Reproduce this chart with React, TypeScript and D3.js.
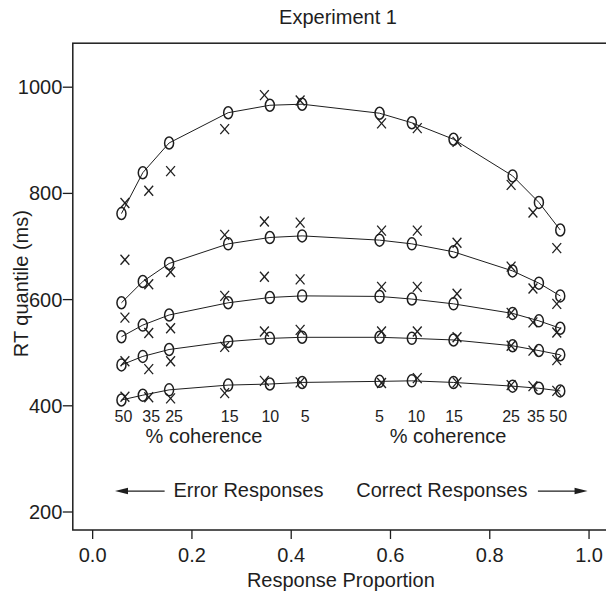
import React from "react";
import * as d3 from "d3";

// Proportions (x) of predicted (O) and observed (X) points, ordered left to right
const predProp = [0.058, 0.101, 0.154, 0.273, 0.357, 0.422, 0.578, 0.643, 0.727, 0.846, 0.899, 0.942];
const obsProp = [0.065, 0.113, 0.157, 0.266, 0.346, 0.418, 0.582, 0.654, 0.734, 0.843, 0.887, 0.935];

// RT quantiles (ms): predicted (O, connected by lines)
const pred90 = [762, 839, 895, 952, 966, 968, 951, 933, 902, 833, 783, 731];
const pred70 = [594, 634, 668, 705, 717, 720, 712, 705, 690, 654, 631, 607];
const pred50 = [530, 552, 571, 594, 604, 607, 606, 601, 592, 574, 560, 546];
const pred30 = [477, 493, 506, 521, 527, 529, 529, 527, 524, 513, 504, 496];
const pred10 = [411, 420, 430, 439, 441, 444, 446, 447, 444, 437, 433, 428];

// RT quantiles (ms): observed (X)
const obs90 = [782, 805, 842, 921, 985, 975, 932, 923, 897, 816, 764, 697];
const obs70 = [675, 629, 652, 722, 747, 745, 730, 730, 707, 662, 621, 592];
const obs50 = [566, 537, 546, 607, 643, 638, 624, 624, 611, 575, 557, 538];
const obs30 = [484, 469, 484, 511, 540, 543, 540, 540, 529, 513, 504, 486];
const obs10 = [417, 416, 414, 424, 447, 444, 443, 452, 444, 439, 437, 428];

// Coherence labels
const cohLabels = ["50", "35", "25", "15", "10", "5", "5", "10", "15", "25", "35", "50"];
const cohLabelProp = [0.062, 0.118, 0.164, 0.276, 0.358, 0.428, 0.578, 0.652, 0.728, 0.843, 0.893, 0.938];

const xTicks = [0, 0.2, 0.4, 0.6, 0.8, 1.0];
const yTicks = [200, 400, 600, 800, 1000];

const predSeries = [pred90, pred70, pred50, pred30, pred10];
const obsSeries = [obs90, obs70, obs50, obs30, obs10];

const W = 606;
const H = 594;
const FONT = "'Liberation Sans', Arial, Helvetica, sans-serif";
const INK = "#1e1e1e";

export default function App() {
  const x = d3.scaleLinear().domain([-0.04, 1.04]).range([72.8, 608.9]);
  const y = d3.scaleLinear().domain([200, 1000]).range([512, 87.2]);
  const plotTop = 43.2;
  const plotBottom = 530;
  const plotLeft = x(-0.04);
  const plotRight = x(1.04);

  const line = d3
    .line<[number, number]>()
    .x((d) => x(d[0]))
    .y((d) => y(d[1]));

  const arrowY = y(239.5);
  const textBase = arrowY + 6;

  return (
    <svg
      width={W}
      height={H}
      style={{ position: "absolute", left: 0, top: 0, background: "#fff" }}
      fontFamily={FONT}
    >
      <rect x={0} y={0} width={W} height={H} fill="#fff" />
      {/* Title */}
      <text x={338} y={24} textAnchor="middle" fontSize={20} fill={INK}>
        Experiment 1
      </text>

      {/* Box */}
      <rect
        x={plotLeft}
        y={plotTop}
        width={plotRight - plotLeft}
        height={plotBottom - plotTop}
        fill="none"
        stroke={INK}
        strokeWidth={1.5}
      />

      {/* Y axis */}
      {yTicks.map((t) => (
        <g key={"y" + t}>
          <line x1={plotLeft - 10} x2={plotLeft} y1={y(t)} y2={y(t)} stroke={INK} strokeWidth={1.3} />
          <text x={plotLeft - 10.5} y={y(t) + 7} textAnchor="end" fontSize={20} fill={INK}>
            {t}
          </text>
        </g>
      ))}
      <text
        transform={`translate(28, ${(plotTop + plotBottom) / 2 - 3}) rotate(-90)`}
        textAnchor="middle"
        fontSize={20}
        fill={INK}
      >
        RT quantile (ms)
      </text>

      {/* X axis */}
      {xTicks.map((t) => (
        <g key={"x" + t}>
          <line x1={x(t)} x2={x(t)} y1={plotBottom} y2={plotBottom + 9} stroke={INK} strokeWidth={1.3} />
          <text x={x(t)} y={562} textAnchor="middle" fontSize={20} fill={INK}>
            {t.toFixed(1)}
          </text>
        </g>
      ))}
      <text x={(x(0) + x(1)) / 2} y={587} textAnchor="middle" fontSize={20} fill={INK}>
        Response Proportion
      </text>

      {/* Predicted lines */}
      {predSeries.map((s, i) => (
        <path
          key={"l" + i}
          d={line(s.map((v, j) => [predProp[j], v] as [number, number])) || ""}
          fill="none"
          stroke={INK}
          strokeWidth={1}
        />
      ))}

      {/* Predicted O markers */}
      {predSeries.map((s, i) =>
        s.map((v, j) => (
          <ellipse
            key={`o${i}-${j}`}
            cx={x(predProp[j])}
            cy={y(v)}
            rx={4.5}
            ry={6}
            fill="none"
            stroke={INK}
            strokeWidth={1.5}
          />
        ))
      )}

      {/* Observed X markers */}
      {obsSeries.map((s, i) =>
        s.map((v, j) => {
          const cx = x(obsProp[j]);
          const cy = y(v);
          return (
            <g key={`x${i}-${j}`} stroke={INK} strokeWidth={1.3}>
              <line x1={cx - 4.4} y1={cy - 5} x2={cx + 4.4} y2={cy + 5} />
              <line x1={cx - 4.4} y1={cy + 5} x2={cx + 4.4} y2={cy - 5} />
            </g>
          );
        })
      )}

      {/* Coherence labels */}
      {cohLabels.map((l, i) => (
        <text key={"c" + i} x={x(cohLabelProp[i])} y={y(370)} textAnchor="middle" fontSize={16} fill={INK}>
          {l}
        </text>
      ))}
      <text x={x(0.2243)} y={y(330.5)} textAnchor="middle" fontSize={20} fill={INK}>
        % coherence
      </text>
      <text x={x(0.716)} y={y(330.5)} textAnchor="middle" fontSize={20} fill={INK}>
        % coherence
      </text>

      {/* Arrows and response labels */}
      <line x1={x(0.145)} x2={x(0.045) + 11} y1={arrowY} y2={arrowY} stroke={INK} strokeWidth={1.3} />
      <path
        d={`M${x(0.045)},${arrowY} L${x(0.045) + 13},${arrowY - 3.2} L${x(0.045) + 13},${arrowY + 3.2} Z`}
        fill={INK}
      />
      <text x={x(0.465)} y={textBase} textAnchor="end" fontSize={20} fill={INK}>
        Error Responses
      </text>
      <text x={x(0.531)} y={textBase} textAnchor="start" fontSize={20} fill={INK}>
        Correct Responses
      </text>
      <line x1={x(0.897)} x2={x(0.997) - 11} y1={arrowY} y2={arrowY} stroke={INK} strokeWidth={1.3} />
      <path
        d={`M${x(0.997)},${arrowY} L${x(0.997) - 13},${arrowY - 3.2} L${x(0.997) - 13},${arrowY + 3.2} Z`}
        fill={INK}
      />
    </svg>
  );
}
